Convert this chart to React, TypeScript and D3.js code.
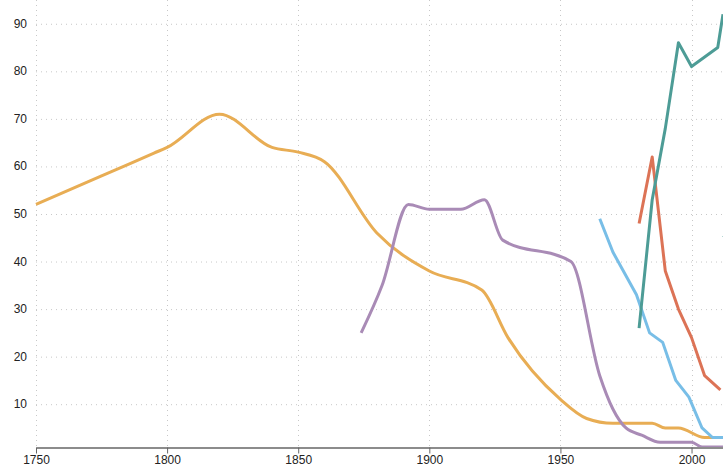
import React, { useEffect, useRef } from 'react';
import * as d3 from 'd3';

type Pt = [number, number];

const orangeSeries: Pt[] = [
  [1750, 52], [1775, 58], [1795, 62.8], [1800, 64], [1820, 71], [1840, 64], [1850, 63], [1860, 61],
  [1880, 46], [1900, 38], [1920, 34], [1930, 24], [1950, 11], [1960, 7],
  [1970, 6], [1985, 6], [1990, 5], [1995, 5], [2005, 3], [2012, 3]
];
const purpleSeries: Pt[] = [
  [1874, 25], [1882, 35], [1892, 52], [1900, 51], [1912, 51], [1921, 53],
  [1928, 44.5], [1954, 40], [1965, 16], [1970, 9], [1975, 5], [1981, 3.5],
  [1988, 2], [2000, 2], [2004, 1], [2012, 1]
];
const blueSeries: Pt[] = [
  [1965, 49], [1970, 42], [1979, 33], [1984, 25], [1989, 23], [1994, 15],
  [1999, 11.5], [2004, 5], [2008, 3], [2012, 3]
];
const redSeries: Pt[] = [
  [1980, 48], [1985, 62], [1990, 38], [1995, 30], [2000, 24], [2005, 16], [2011, 13]
];
const tealSeries: Pt[] = [
  [1980, 26], [1985, 53], [1990, 68], [1995, 86], [2000, 81], [2005, 83],
  [2010, 85], [2012, 92]
];
const edgeSeries: Pt[] = [[2012, 45.5], [2014, 45]];

const xTicks = [1750, 1800, 1850, 1900, 1950, 2000];
const yTicks = [10, 20, 30, 40, 50, 60, 70, 80, 90];

const series = [
  { data: orangeSeries, color: '#e8ad54', smooth: true },
  { data: purpleSeries, color: '#a98bb6', smooth: true },
  { data: blueSeries, color: '#78bee7', smooth: false },
  { data: redSeries, color: '#dc7356', smooth: false },
  { data: tealSeries, color: '#4d9c96', smooth: false },
  { data: edgeSeries, color: '#4d9c96', smooth: false }
];

const App: React.FC = () => {
  const svgRef = useRef<SVGSVGElement | null>(null);

  useEffect(() => {
    const width = 723;
    const height = 466;
    const margin = { left: 36, right: 0, top: 0, bottom: 19 };

    const svg = d3.select(svgRef.current);
    svg.selectAll('*').remove();

    const x = d3.scaleLinear().domain([1750, 2012]).range([margin.left, width - margin.right]);
    const y = d3.scaleLinear().domain([1, 95]).range([height - margin.bottom, margin.top]);

    svg.append('clipPath').attr('id', 'plot-clip')
      .append('rect')
      .attr('x', margin.left - 2)
      .attr('y', 0)
      .attr('width', width - margin.left + 2)
      .attr('height', height - margin.bottom);

    // grid
    const grid = svg.append('g');
    grid.selectAll('.hg')
      .data(yTicks)
      .enter()
      .append('line')
      .attr('x1', margin.left)
      .attr('x2', width)
      .attr('y1', d => y(d) + 0.5)
      .attr('y2', d => y(d) + 0.5)
      .attr('stroke', '#c8c8c8')
      .attr('stroke-dasharray', '1,4');
    grid.selectAll('.vg')
      .data(xTicks)
      .enter()
      .append('line')
      .attr('x1', d => Math.round(x(d)) + 0.5)
      .attr('x2', d => Math.round(x(d)) + 0.5)
      .attr('y1', 0)
      .attr('y2', y(1))
      .attr('stroke', '#c8c8c8')
      .attr('stroke-dasharray', '1,4');

    // y labels
    svg.append('g').selectAll('text')
      .data(yTicks)
      .enter()
      .append('text')
      .attr('x', 27)
      .attr('y', d => y(d) + 4)
      .attr('text-anchor', 'end')
      .style('font-family', '"Liberation Sans", Arial, sans-serif')
      .style('font-size', '12px')
      .attr('fill', '#222')
      .text(d => d);

    // x axis
    const xAxis = svg.append('g')
      .attr('transform', `translate(0,${Math.round(y(1)) + 0.5})`)
      .call(d3.axisBottom(x).tickValues(xTicks).tickSize(6).tickSizeOuter(0).tickFormat(d3.format('d')));
    xAxis.select('.domain').attr('stroke', '#666').attr('stroke-width', 1.3);
    xAxis.selectAll('.tick line').attr('stroke', '#666');
    xAxis.selectAll('.tick text')
      .attr('y', 8)
      .style('font-family', '"Liberation Sans", Arial, sans-serif')
      .style('font-size', '12px')
      .attr('fill', '#222');

    const smoothLine = d3.line<Pt>()
      .x(d => x(d[0]))
      .y(d => y(d[1]))
      .curve(d3.curveMonotoneX);
    const straightLine = d3.line<Pt>()
      .x(d => x(d[0]))
      .y(d => y(d[1]));

    const lines = svg.append('g').attr('clip-path', 'url(#plot-clip)');
    lines.selectAll('path')
      .data(series)
      .enter()
      .append('path')
      .attr('d', d => (d.smooth ? smoothLine(d.data) : straightLine(d.data)) || '')
      .attr('fill', 'none')
      .attr('stroke', d => d.color)
      .attr('stroke-width', 3)
      .attr('stroke-linejoin', 'round');
  }, []);

  return (
    <svg
      ref={svgRef}
      width={723}
      height={466}
      style={{ position: 'absolute', left: 0, top: 0, background: '#fff' }}
    />
  );
};

export default App;
